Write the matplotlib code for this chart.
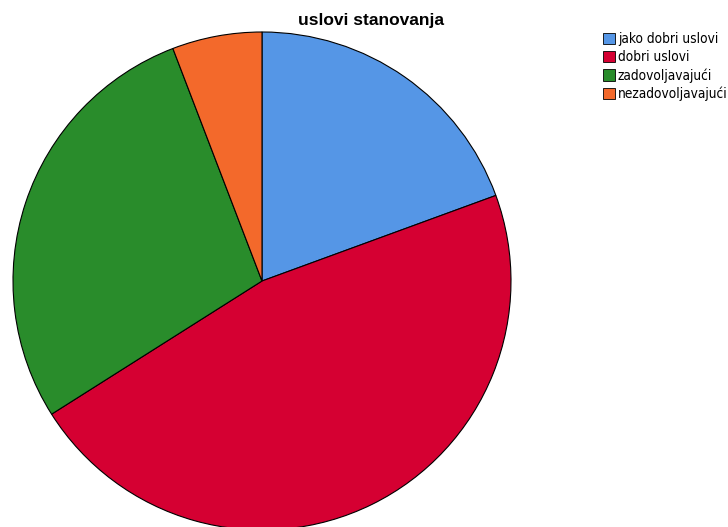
import matplotlib
matplotlib.use("Agg")
import matplotlib.pyplot as plt
from matplotlib.patches import Patch
from matplotlib.font_manager import FontProperties

categories = ["jako dobri uslovi", "dobri uslovi", "zadovoljavajući", "nezadovoljavajući"]
counts = [20, 48, 29, 6]
colors = ["#5596E6", "#D50032", "#298C2B", "#F3692B"]

fig = plt.figure(figsize=(7.28, 5.27), dpi=100)
fig.patch.set_facecolor("white")
ax = fig.add_axes([13/728, (527-281-249)/527, 498/728, 498/527])
ax.pie(counts, colors=colors, startangle=90, counterclock=False,
       wedgeprops=dict(edgecolor="black", linewidth=0.8))
ax.set_aspect("auto")
ax.set_xlim(-1, 1)
ax.set_ylim(-1, 1)
ax.axis("off")

fig.text(371/728, 1-25/527, "uslovi stanovanja", ha="center", va="baseline",
         fontsize=12.5, fontweight="bold", family="Liberation Sans")

handles = [Patch(facecolor=c, edgecolor="black", linewidth=0.6) for c in colors]
fp = FontProperties(family="DejaVu Sans", stretch="condensed", size=9.8)
fig.legend(handles, categories, loc="upper left", bbox_to_anchor=(603/728, 1-32/527),
           frameon=False, prop=fp, handlelength=0.88, handleheight=0.88,
           handletextpad=0.22, labelspacing=0.3, borderpad=0, borderaxespad=0)

fig.savefig("out.png", dpi=100)
